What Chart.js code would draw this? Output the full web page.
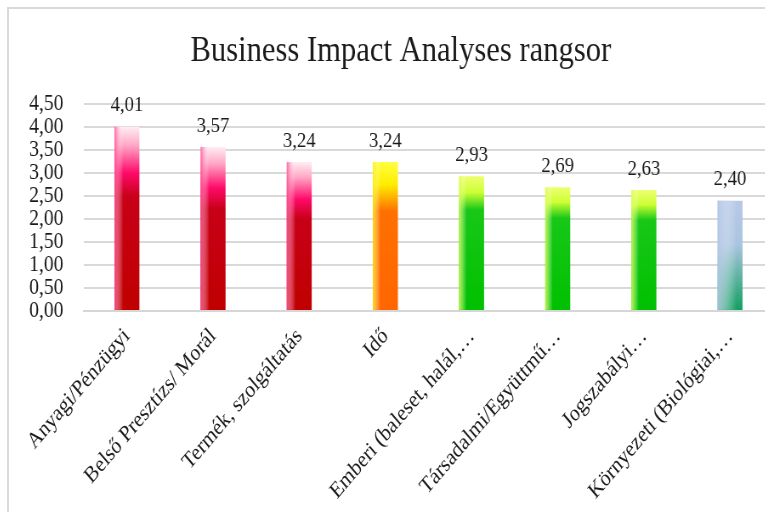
<!DOCTYPE html>
<html>
<head>
<meta charset="utf-8">
<script src="https://cdn.jsdelivr.net/npm/chart.js@4/dist/chart.umd.min.js"></script>
<style>
  html, body { margin: 0; padding: 0; background: #fff; overflow: hidden; }
  .frame {
    position: absolute; left: 7px; top: 7px; width: 800px; height: 540px;
    border-left: 2px solid #d9d9d9; border-top: 2px solid #d9d9d9;
  }
  #chart { display: block; transform: scaleX(0.85); transform-origin: 0 0; }
</style>
</head>
<body>
<div class="frame">
  <canvas id="chart" width="912" height="520"></canvas>
</div>
<script>
const categories = [
    'Anyagi/Pénzügyi',
    'Belső Presztízs/ Morál',
    'Termék, szolgáltatás',
    'Idő',
    'Emberi (baleset, halál,…',
    'Társadalmi/Együttmű…',
    'Jogszabályi…',
    'Környezeti (Biológiai,…'
];
const scores = [4.01, 3.57, 3.24, 3.24, 2.93, 2.69, 2.63, 2.40];
const yTickValues = [0, 0.5, 1, 1.5, 2, 2.5, 3, 3.5, 4, 4.5];

// fill style for each bar, by name
const barStyles = ['red', 'red', 'red', 'orange', 'green', 'green', 'green', 'teal'];

const palettes = {
    red: {
        stops: [[0, '#ffeef3'], [0.1, '#ffa8c6'], [0.25, '#ff0a6a'], [0.38, '#c80018'], [1, '#c00000']],
        edge: '#ff4d94', edgeWidth: 0.35
    },
    orange: {
        stops: [[0, '#ffff40'], [0.15, '#ffee00'], [0.33, '#ff7000'], [1, '#ff6600']],
        edge: '#ffee00', edgeWidth: 0.3
    },
    green: {
        stops: [[0, '#eeff70'], [0.12, '#ccff33'], [0.25, '#18c818'], [1, '#00c000']],
        edge: '#d8ff40', edgeWidth: 0.3
    },
    teal: {
        stops: [[0, '#b8c9e8'], [0.4, '#aac5e0'], [1, '#10a060']],
        edge: '#b4c7e7', edgeWidth: 0.75
    }
};

const FONT = "'Liberation Serif', 'Times New Roman', serif";
const fmt = (v) => v.toFixed(2).replace('.', ',');

// vertical gradient from the bar top down to zero
const barFill = (ctx) => {
    const chart = ctx.chart;
    const pal = palettes[barStyles[ctx.dataIndex]];
    if (!chart.chartArea || ctx.type !== 'data') return pal.stops[pal.stops.length - 1][1];
    const y = chart.scales.y;
    const top = y.getPixelForValue(ctx.raw);
    const base = y.getPixelForValue(0);
    const g = chart.ctx.createLinearGradient(0, top, 0, base);
    pal.stops.forEach(([o, c]) => g.addColorStop(o, c));
    return g;
};

// lighter stripe fading in from the left side of every bar
const edgeShade = {
    id: 'edgeShade',
    afterDatasetsDraw(chart) {
        const c = chart.ctx;
        chart.getDatasetMeta(0).data.forEach((bar, i) => {
            const pal = palettes[barStyles[i]];
            const left = bar.x - bar.width / 2;
            const w = bar.width * pal.edgeWidth;
            const g = c.createLinearGradient(left, 0, left + w, 0);
            g.addColorStop(0, pal.edge);
            g.addColorStop(1, 'rgba(255,255,255,0)');
            c.save();
            c.globalAlpha = 0.85;
            c.fillStyle = g;
            c.fillRect(left, bar.y, w, bar.base - bar.y);
            c.restore();
        });
    }
};

// value printed above each bar
const valueLabels = {
    id: 'valueLabels',
    afterDatasetsDraw(chart) {
        const c = chart.ctx;
        const ds = chart.data.datasets[0];
        c.save();
        c.font = '22px ' + FONT;
        c.fillStyle = '#1a1a1a';
        c.textAlign = 'center';
        c.textBaseline = 'middle';
        chart.getDatasetMeta(0).data.forEach((bar, i) => {
            c.fillText(fmt(ds.data[i]), bar.x, bar.y - 21);
        });
        c.restore();
    }
};

new Chart(document.getElementById('chart'), {
    type: 'bar',
    data: {
        labels: categories,
        datasets: [{
            data: scores,
            backgroundColor: barFill,
            borderWidth: 0,
            barPercentage: 0.29,
            categoryPercentage: 1
        }]
    },
    options: {
        responsive: false,
        animation: false,
        layout: { padding: { left: 23, right: 13, top: 0, bottom: 12 } },
        plugins: {
            legend: { display: false },
            tooltip: { enabled: false },
            title: {
                display: true,
                text: 'Business Impact Analyses rangsor',
                color: '#1a1a1a',
                font: { family: FONT, size: 36, weight: 'normal' },
                padding: { top: 21, bottom: 31 }
            }
        },
        scales: {
            x: {
                grid: { display: false, drawTicks: false },
                border: { display: true, color: '#d6d6d6', width: 2 },
                ticks: {
                    color: '#1a1a1a',
                    font: { family: FONT, size: 23 },
                    minRotation: 45,
                    maxRotation: 45,
                    autoSkip: false,
                    padding: 12
                },
                // the slanted first label may hang past the plot's left edge
                afterFit: (scale) => {
                    scale.paddingLeft = 0;
                    scale.paddingRight = 0;
                }
            },
            y: {
                min: 0,
                max: 4.5,
                afterBuildTicks: (scale) => {
                    scale.ticks = yTickValues.map((v) => ({ value: v }));
                },
                // keep the axis just wide enough for "4,50" plus the gap
                afterFit: (scale) => {
                    scale.width = 65;
                },
                grid: { color: '#d9d9d9', lineWidth: 2, drawTicks: false },
                border: { display: false },
                ticks: {
                    color: '#1a1a1a',
                    font: { family: FONT, size: 23 },
                    padding: 24,
                    autoSkip: false,
                    callback: (v) => fmt(v)
                }
            }
        }
    },
    plugins: [edgeShade, valueLabels]
});
</script>
</body>
</html>
